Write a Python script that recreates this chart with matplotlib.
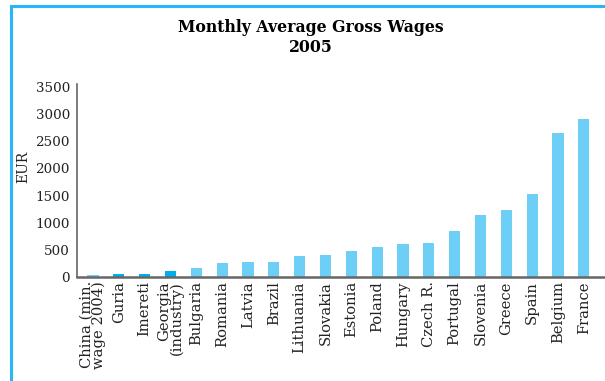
import matplotlib
matplotlib.use("Agg")
import matplotlib.pyplot as plt
from matplotlib.patches import Rectangle

categories = ["China (min.\nwage 2004)", "Guria", "Imereti", "Georgia\n(industry)", "Bulgaria",
              "Romania", "Latvia", "Brazil", "Lithuania", "Slovakia", "Estonia", "Poland",
              "Hungary", "Czech R.", "Portugal", "Slovenia", "Greece", "Spain", "Belgium", "France"]
values = [35, 55, 55, 110, 170, 263, 282, 282, 390, 405, 479, 553, 608, 626, 847, 1142, 1234, 1529, 2652, 2910]
highlight = [False, True, True, True] + [False] * 16
yticks = [0, 500, 1000, 1500, 2000, 2500, 3000, 3500]

light = "#6dcff6"
dark = "#00aeef"
colors = [dark if h else light for h in highlight]

plt.rcParams['font.family'] = ['DejaVu Serif']

W, H = 605, 381
fig = plt.figure(figsize=(W / 100, H / 100), dpi=100)
ax = fig.add_axes([77 / W, 1 - 277 / H, 1 - 77 / W, (277 - 84) / H])

x = list(range(len(categories)))
ax.bar(x, values, width=0.43, color=colors, zorder=2)
ax.set_xlim(-0.62, len(categories) - 1 + 0.82)
ax.set_ylim(0, 3555)
ax.set_yticks(yticks)
ax.set_yticklabels([str(v) for v in yticks], fontsize=9.7, color="#222222")
ax.set_xticks(x)
ax.set_xticklabels(categories, rotation=90, fontsize=10.6, color="#222222",
                   va="top", ha="center", multialignment="right", linespacing=0.85)
ax.tick_params(axis="both", length=0)
ax.tick_params(axis="y", pad=5)
ax.tick_params(axis="x", pad=3)
for s in ["top", "right"]:
    ax.spines[s].set_visible(False)
ax.spines["left"].set_color("#666666")
ax.spines["bottom"].set_color("#666666")
ax.spines["left"].set_linewidth(1.2)
ax.spines["bottom"].set_linewidth(1.8)
ax.set_ylabel("EUR", fontsize=10, color="#222222")
ax.yaxis.set_label_coords(-0.088, 0.57)

fig.text(311 / W, 1 - 27 / H, "Monthly Average Gross Wages", ha="center", va="center",
         fontsize=11.3, fontweight="bold")
fig.text(311 / W, 1 - 48 / H, "2005", ha="center", va="center",
         fontsize=11.3, fontweight="bold")

border = Rectangle((11.5 / W, -0.1), 1.2, 1 - 5.5 / H + 0.1, transform=fig.transFigure,
                   fill=False, edgecolor="#29b6f6", linewidth=2.2, clip_on=False)
fig.patches.append(border)

fig.savefig("out.png", dpi=100)
